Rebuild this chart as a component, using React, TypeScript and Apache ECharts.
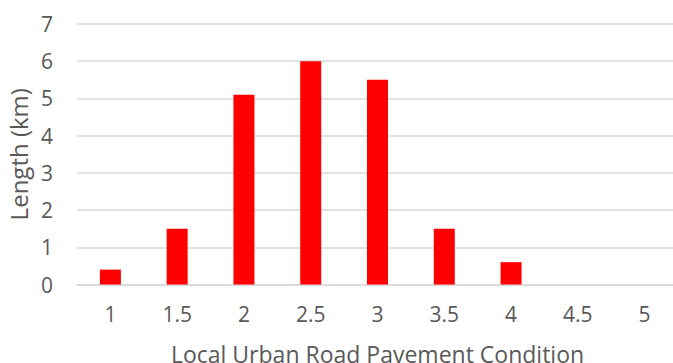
import React, { useEffect, useRef } from "react";
import * as echarts from "echarts";

// Pavement condition ratings and the road length at each rating
const conditions: string[] = ["1", "1.5", "2", "2.5", "3", "3.5", "4", "4.5", "5"];
const lengthKm: number[] = [0.4, 1.5, 5.1, 6.0, 5.5, 1.5, 0.6, 0, 0];

const TEXT = "#595959";
const GRID = "#d9d9d9";
const FONT = "'Open Sans', 'Noto Sans', sans-serif";

export default function App() {
  const ref = useRef<HTMLDivElement>(null);

  useEffect(() => {
    if (!ref.current) return;
    const chart = echarts.init(ref.current, undefined, { renderer: "svg" });
    chart.setOption({
      animation: false,
      backgroundColor: "#ffffff",
      grid: {
        left: 77,
        top: 24,
        width: 601,
        height: 260.5,
        containLabel: false,
        outerBoundsMode: "none",
      },
      xAxis: {
        type: "category",
        data: conditions,
        axisLine: { show: true, lineStyle: { color: GRID, width: 1.5 } },
        axisTick: { show: false },
        axisLabel: { color: TEXT, fontSize: 21, fontFamily: FONT, margin: 19 },
        name: "Local Urban Road Pavement Condition",
        nameLocation: "middle",
        nameGap: 58,
        nameTextStyle: { color: TEXT, fontSize: 23, fontFamily: FONT },
      },
      yAxis: {
        type: "value",
        min: 0,
        max: 7,
        interval: 1,
        axisLine: { show: false },
        axisTick: { show: false },
        splitLine: { lineStyle: { color: GRID, width: 1.5 } },
        axisLabel: { color: TEXT, fontSize: 21, fontFamily: FONT, margin: 24 },
        name: "Length (km)",
        nameLocation: "middle",
        nameGap: 44,
        nameTextStyle: { color: TEXT, fontSize: 24, fontFamily: FONT },
      },
      series: [
        {
          type: "bar",
          data: lengthKm,
          barWidth: 21,
          itemStyle: { color: "#ff0000" },
        },
      ],
    });
    return () => chart.dispose();
  }, []);

  return (
    <div
      ref={ref}
      style={{ position: "fixed", left: 0, top: 0, width: 673, height: 363 }}
    />
  );
}
